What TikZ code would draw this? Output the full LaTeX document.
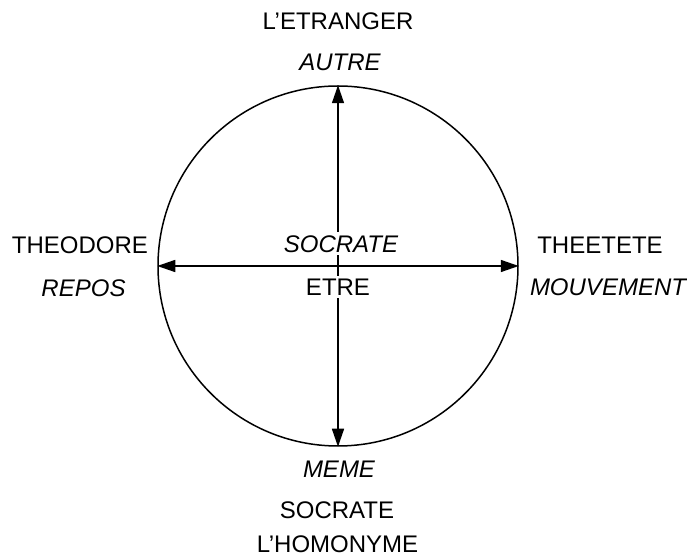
\documentclass[tikz,border=0pt]{standalone}
\usepackage{fontspec}
\setmainfont{Liberation Sans}
\usetikzlibrary{arrows.meta}
\begin{document}
\begin{tikzpicture}[x=0.5pt,y=-0.5pt,
  lbl/.style={font=\fontsize{12}{14}\selectfont, inner sep=1pt},
  ilbl/.style={lbl, font=\fontsize{12}{14}\selectfont\itshape},
  wlbl/.style={ilbl, fill=white, inner sep=1.5pt},
  conn/.style={line width=0.75pt, {Triangle[length=9pt,width=6pt]}-{Triangle[length=9pt,width=6pt]}}]
\useasboundingbox (0,0) rectangle (687,555);
\node[circle, draw, line width=0.75pt, minimum size=180pt, inner sep=0pt] (c) at (338,266) {};
\draw[conn] (c.north) -- (c.south);
\draw[conn] (c.west) -- (c.east);
\node[wlbl] (soc) at (341,244) {SOCRATE};
\node[lbl, fill=white, inner sep=1.5pt] (etre) at (338,287) {ETRE};
\node[lbl] (etr) at (338,21.5) {L'ETRANGER};
\node[ilbl] (aut) at (340,62) {AUTRE};
\node[lbl] (theo) at (80,245) {THEODORE};
\node[ilbl] (rep) at (83.5,288) {REPOS};
\node[lbl] (thee) at (600,245) {THEETETE};
\node[ilbl] (mouv) at (608,287) {MOUVEMENT};
\node[ilbl] (meme) at (339,469) {MEME};
\node[lbl] (soc2) at (337,510) {SOCRATE};
\node[lbl] (hom) at (337.5,544) {L'HOMONYME};
\end{tikzpicture}
\end{document}
